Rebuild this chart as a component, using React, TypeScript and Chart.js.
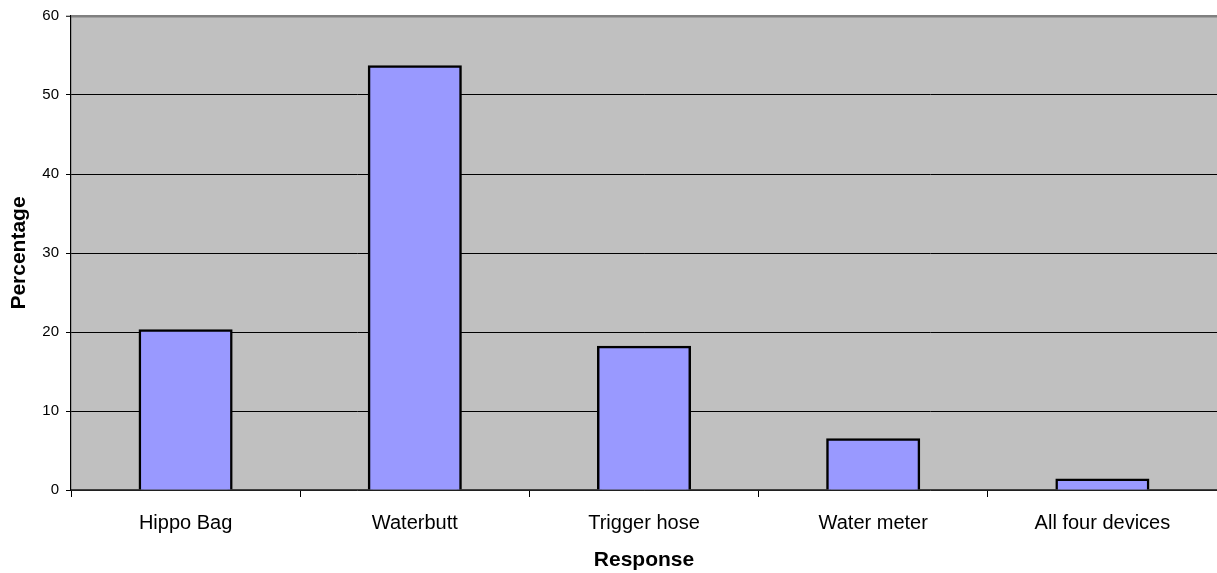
import React, { useEffect, useRef } from "react";
import { Chart, registerables } from "chart.js";

Chart.register(...registerables);

const categories = ["Hippo Bag", "Waterbutt", "Trigger hose", "Water meter", "All four devices"];
const percentages = [20.2, 53.6, 18.1, 6.4, 1.3];
const yTicks = [0, 10, 20, 30, 40, 50, 60];

const FONT = "'Liberation Sans', Arial, sans-serif";

const plotBg = {
  id: "plotBg",
  beforeDraw(chart: any) {
    const { ctx, chartArea } = chart;
    if (!chartArea) return;
    ctx.save();
    ctx.fillStyle = "#C0C0C0";
    ctx.fillRect(chartArea.left, chartArea.top, chartArea.right - chartArea.left, chartArea.bottom - chartArea.top);
    ctx.restore();
  },
};

export default function App() {
  const ref = useRef<HTMLCanvasElement | null>(null);

  useEffect(() => {
    if (!ref.current) return;
    const chart = new Chart(ref.current, {
      type: "bar",
      data: {
        labels: categories,
        datasets: [
          {
            data: percentages,
            backgroundColor: "#9999FF",
            borderColor: "#000000",
            borderWidth: 2.5,
            inflateAmount: 1.2,
            barPercentage: 0.4,
            categoryPercentage: 1,
          },
        ],
      },
      options: {
        animation: false,
        responsive: false,
        maintainAspectRatio: false,
        layout: { padding: { top: 14, left: 0, right: 0, bottom: 0 } },
        plugins: {
          legend: { display: false },
          tooltip: { enabled: false },
        },
        scales: {
          x: {
            offset: true,
            grid: {
              offset: true,
              drawOnChartArea: false,
              tickLength: 7,
              color: "#000000",
              tickColor: "#000000",
            },
            border: { color: "#404040", width: 1.5 },
            ticks: {
              color: "#000000",
              font: { family: FONT, size: 20 },
              padding: 14,
              maxRotation: 0,
              autoSkip: false,
            },
            title: {
              display: true,
              text: "Response",
              color: "#000000",
              font: { family: FONT, size: 21, weight: "bold" },
              padding: { top: 0, bottom: 0 },
            },
            afterFit: (scale: any) => {
              scale.height = 83;
            },
          },
          y: {
            min: 0,
            max: 60,
            afterBuildTicks: (scale: any) => {
              scale.ticks = yTicks.map((v) => ({ value: v }));
            },
            grid: {
              color: (ctx: any) => (ctx.tick && ctx.tick.value === 60 ? "#808080" : "#000000"),
              lineWidth: (ctx: any) => (ctx.tick && ctx.tick.value === 60 ? 2.5 : 1),
              tickLength: 5,
              tickColor: "#000000",
              tickWidth: 1,
            },
            border: { color: "#000000", width: 1.2 },
            ticks: {
              color: "#000000",
              font: { family: FONT, size: 15 },
              padding: 7,
            },
            title: {
              display: true,
              text: "Percentage",
              color: "#000000",
              font: { family: FONT, size: 21, weight: "bold" },
              padding: { top: 7, bottom: 0 },
            },
            afterFit: (scale: any) => {
              scale.width = 71;
            },
          },
        },
      },
      plugins: [plotBg],
    });
    return () => chart.destroy();
  }, []);

  return (
    <div style={{ position: "fixed", left: 0, top: 0, width: 1217, height: 573, background: "#ffffff" }}>
      <canvas ref={ref} width={1217} height={573} style={{ display: "block", width: 1217, height: 573 }} />
    </div>
  );
}
